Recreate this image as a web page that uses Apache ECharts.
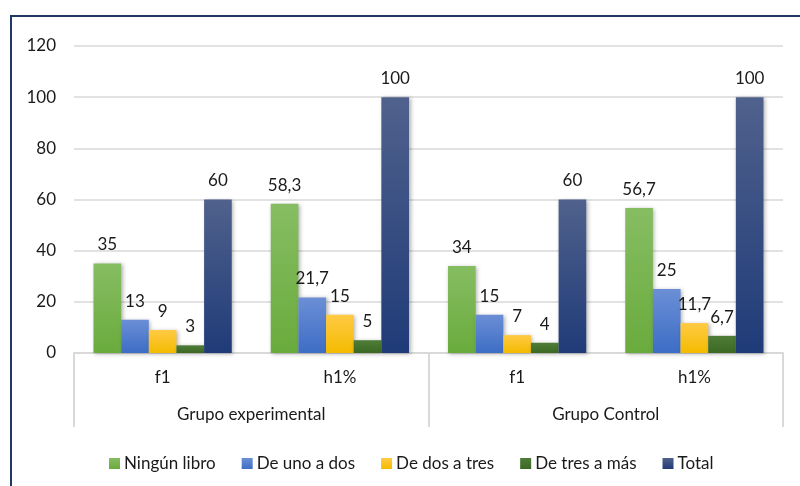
<!DOCTYPE html>
<html>
<head>
<meta charset="utf-8">
<script src="https://cdn.jsdelivr.net/npm/echarts@6/dist/echarts.min.js"></script>
<style>
html,body{margin:0;padding:0;background:#fff;}
#c{width:800px;height:486px;}
</style>
</head>
<body>
<div id="c"></div>
<script>
var categories = ['f1', 'h1%', 'f1', 'h1%'];
var groups = ['Grupo experimental', 'Grupo Control'];
var seriesNames = ['Ningún libro', 'De uno a dos', 'De dos a tres', 'De tres a más', 'Total'];
var ningunLibro = [35, 58.3, 34, 56.7];
var deUnoADos = [13, 21.7, 15, 25];
var deDosATres = [9, 15, 7, 11.7];
var deTresAMas = [3, 5, 4, 6.7];
var total = [60, 100, 60, 100];
var yTicks = [0, 20, 40, 60, 80, 100, 120];

var seriesValues = [ningunLibro, deUnoADos, deDosATres, deTresAMas, total];
var gradients = [
  ['#86bd62', '#6aab3d'],
  ['#6b8fd6', '#3d6dc5'],
  ['#ffca45', '#f4bb00'],
  ['#4f7d37', '#3b6822'],
  ['#50618c', '#1f3b78']
];
var FONT = 'Lato';
var FS = 17;
var chart = echarts.init(document.getElementById('c'), null, {renderer: 'canvas'});
var series = seriesValues.map(function (vals, i) {
  return {
    name: seriesNames[i],
    type: 'bar',
    data: vals,
    barGap: '0%',
    barCategoryGap: '22%',
    itemStyle: {
      color: {type: 'linear', x: 0, y: 0, x2: 0, y2: 1, colorStops: [
        {offset: 0, color: gradients[i][0]}, {offset: 1, color: gradients[i][1]}]},
      shadowColor: 'rgba(0,0,0,0.3)', shadowBlur: 4, shadowOffsetX: 1.5, shadowOffsetY: 1
    },
    label: {
      show: true, position: 'top', distance: 10,
      color: '#1a1a1a', fontSize: FS, fontFamily: FONT,
      formatter: function (p) { return String(p.value).replace('.', ','); }
    }
  };
});
chart.setOption({
  animation: false,
  textStyle: {fontFamily: FONT},
  grid: {left: 74, right: 17, top: 46, bottom: 133},
  graphic: [{
    type: 'rect', shape: {x: 11, y: 16, width: 820, height: 500},
    style: {fill: 'none', stroke: '#203864', lineWidth: 2}, z: -1, silent: true
  }],
  legend: {
    data: seriesNames, left: 104, top: 450,
    itemWidth: 11, itemHeight: 11, itemGap: 26,
    icon: 'rect',
    textStyle: {fontSize: FS, fontFamily: FONT, color: '#1a1a1a', padding: [0, 0, 0, -1]}
  },
  xAxis: [{
    type: 'category', data: categories, position: 'bottom',
    axisLine: {show: true, lineStyle: {color: '#d9d9d9', width: 2}},
    axisTick: {show: false},
    axisLabel: {fontSize: FS, color: '#1a1a1a', margin: 16, fontFamily: FONT}
  }, {
    type: 'category', data: groups, position: 'bottom', gridIndex: 0,
    axisLine: {show: false},
    axisTick: {show: true, length: 74, lineStyle: {color: '#d9d9d9', width: 2}},
    axisLabel: {fontSize: FS, color: '#1a1a1a', margin: 53, fontFamily: FONT}
  }],
  yAxis: {
    type: 'value', min: yTicks[0], max: yTicks[yTicks.length - 1], interval: 20,
    axisLine: {show: false}, axisTick: {show: false},
    splitLine: {lineStyle: {color: '#d9d9d9', width: 1.5}},
    axisLabel: {fontSize: FS, color: '#1a1a1a', margin: 18, fontFamily: FONT}
  },
  series: series
});
</script>
</body>
</html>
